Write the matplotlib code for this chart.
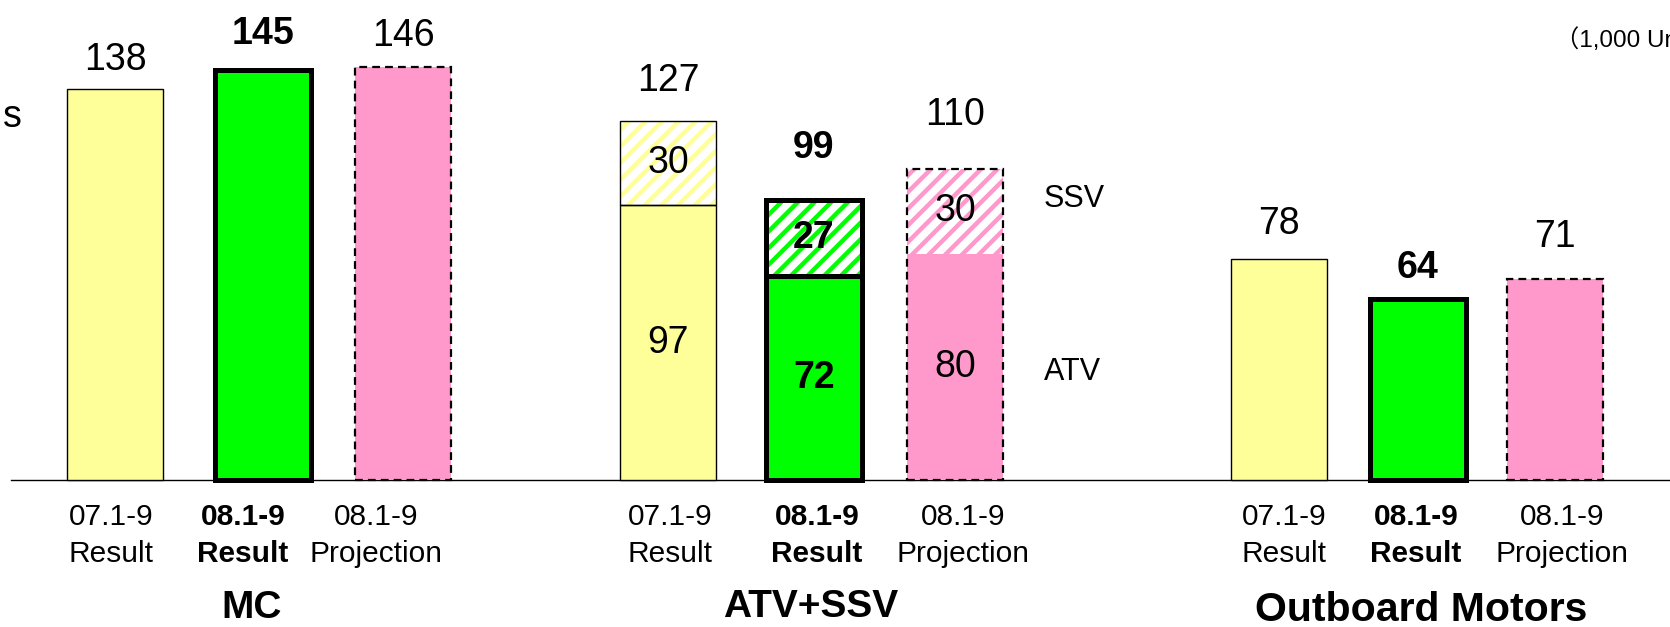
import matplotlib
matplotlib.use("Agg")
import matplotlib.pyplot as plt

plt.rcParams["font.family"] = ["Liberation Sans", "DejaVu Sans"]
plt.rcParams["hatch.linewidth"] = 3.2

# --- data (1,000 units) ---
groups = ["MC", "ATV+SSV", "Outboard Motors"]
period_top = ["07.1-9", "08.1-9", "08.1-9"]
period_bottom = ["Result", "Result", "Projection"]
mc = [138, 145, 146]
atv = [97, 72, 80]
ssv = [30, 27, 30]
outboard = [78, 64, 71]

# --- layout (pixels) ---
W, H, BASE = 1670, 627, 480
PX = 2.83  # pixels per 1,000 units
bar_x = [[115, 263, 403], [668, 814, 955], [1279, 1418, 1555]]
tick_x = [[111, 243, 376], [670, 817, 963], [1284, 1416, 1562]]
label_gap = [[19, 26, 21], [30, 42, 44], [25, 21, 32]]
group_x = [252, 811, 1421]
group_y = [-138, -137, -141]
group_fs = [28, 28, 29.5]
bar_w = 96

fills = ["#FFFF99", "#00FF00", "#FF99CC"]
edge_lw = [1.0, 3.6, 1.6]
edge_ls = ["-", "-", (0, (3.5, 2.3))]
weights = ["normal", "bold", "normal"]

fig = plt.figure(figsize=(W / 100, H / 100), dpi=100)
ax = fig.add_axes([0, 0, 1, 1])
ax.set_xlim(0, W)
ax.set_ylim(-(H - BASE) / PX, BASE / PX)
ax.axis("off")

ax.plot([11, W], [0, 0], color="black", lw=1.0, zorder=1)

totals = [mc, [a + s for a, s in zip(atv, ssv)], outboard]

for g in range(3):
    for i in range(3):
        x = bar_x[g][i]
        if g == 1:
            # ATV part, solid
            ax.bar(x, atv[i], bar_w, color=fills[i], lw=0, zorder=2)
            # SSV part, hatched
            ax.bar(x, ssv[i], bar_w, bottom=atv[i], color="white",
                   edgecolor=fills[i], hatch="//", lw=0, zorder=2)
            if i < 2:
                ax.bar(x, atv[i], bar_w, fill=False, edgecolor="black",
                       lw=edge_lw[i], ls=edge_ls[i], zorder=3)
                ax.bar(x, ssv[i], bar_w, bottom=atv[i], fill=False,
                       edgecolor="black", lw=edge_lw[i], ls=edge_ls[i], zorder=3)
            else:
                ax.bar(x, totals[g][i], bar_w, fill=False, edgecolor="black",
                       lw=edge_lw[i], ls=edge_ls[i], zorder=3)
            ax.text(x, atv[i] / 2, str(atv[i]), ha="center", va="center",
                    fontsize=27, fontweight=weights[i], zorder=4)
            ax.text(x, atv[i] + ssv[i] / 2, str(ssv[i]), ha="center", va="center",
                    fontsize=27, fontweight=weights[i], zorder=4)
        else:
            ax.bar(x, totals[g][i], bar_w, color=fills[i], edgecolor="black",
                   lw=edge_lw[i], ls=edge_ls[i], zorder=2)

        ax.annotate(str(totals[g][i]), (x, totals[g][i]),
                    xytext=(0, label_gap[g][i]), textcoords="offset pixels",
                    ha="center", va="baseline", fontsize=27,
                    fontweight=weights[i])

        tx = tick_x[g][i]
        ax.annotate(period_top[i], (tx, 0), xytext=(0, -45),
                    textcoords="offset pixels", ha="center", va="baseline",
                    fontsize=21.5, fontweight=weights[i])
        ax.annotate(period_bottom[i], (tx, 0), xytext=(0, -82),
                    textcoords="offset pixels", ha="center", va="baseline",
                    fontsize=21.5, fontweight=weights[i])

    ax.annotate(groups[g], (group_x[g], 0), xytext=(0, group_y[g]),
                textcoords="offset pixels", ha="center", va="baseline",
                fontsize=group_fs[g], fontweight="bold")

# SSV / ATV side labels next to the projection bar
xr = bar_x[1][2] + bar_w / 2
ax.annotate("SSV", (xr, atv[2] + ssv[2] / 2), xytext=(41, 12),
            textcoords="offset pixels", ha="left", va="center", fontsize=22)
ax.annotate("ATV", (xr, atv[2] / 2), xytext=(41, -5),
            textcoords="offset pixels", ha="left", va="center", fontsize=22)

fig.text(22 / W, 1 - 127 / H, "s", ha="right", va="baseline", fontsize=27)
fig.text(1555 / W, 1 - 47 / H, "（1,000 Units）", ha="left", va="baseline",
         fontsize=17.5, family=["Liberation Sans", "Noto Sans CJK JP"])

fig.savefig("out.png", dpi=100)
